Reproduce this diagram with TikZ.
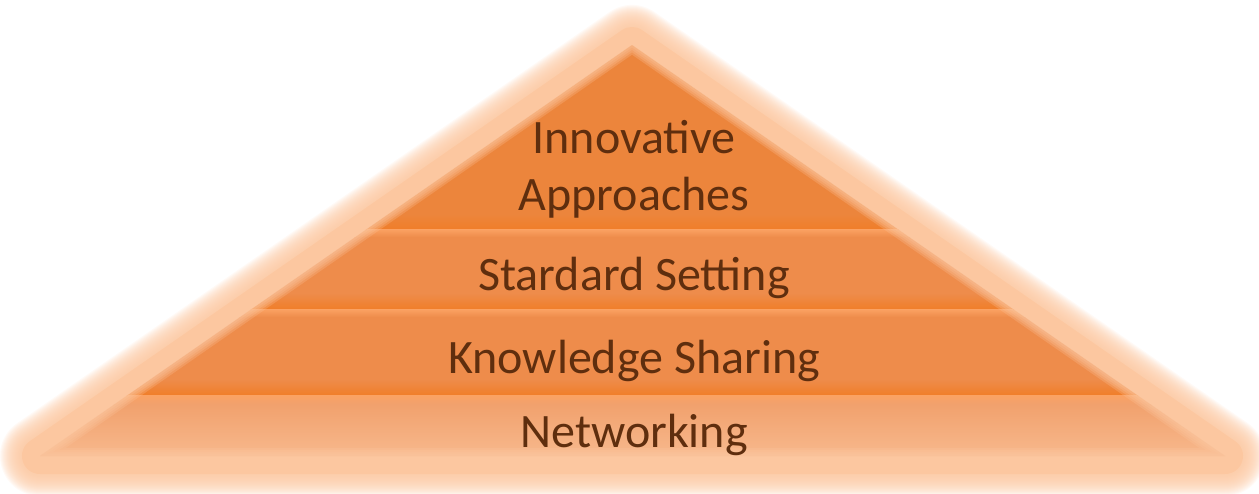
\documentclass[tikz,border=0pt]{standalone}
\usepackage{fontspec}
\setmainfont{Carlito}
\definecolor{glowc}{HTML}{FCC7A0}
\definecolor{bright}{HTML}{FBA263}
\definecolor{midc}{HTML}{EE8C4B}
\definecolor{topc}{HTML}{EC853C}
\definecolor{darkc}{HTML}{F07E2A}
\definecolor{botmid}{HTML}{F1A16D}
\definecolor{botlow}{HTML}{F8BA8F}
\definecolor{txtc}{HTML}{5F2E0E}
\tikzset{
  lbl/.style={font=\fontsize{48}{58}\selectfont, text=txtc, anchor=base, inner sep=0pt},
  glowline/.style={draw=glowc, line join=round}
}
\begin{document}
\begin{tikzpicture}[x=1pt,y=-1pt]
\useasboundingbox (0,0) rectangle (1259,493);
\coordinate (A) at (632,45);
\coordinate (B) at (40,456);
\coordinate (C) at (1225,456);
% glow
\foreach \h in {40,39,...,18}
  \draw[glowline, line width=2*\h, opacity=0.09] (A)--(B)--(C)--cycle;
\draw[glowline, line width=36] (A)--(B)--(C)--cycle;
\fill[glowc] (A)--(B)--(C)--cycle;
% layers
\begin{scope}
\clip (A)--(B)--(C)--cycle;
% layer 1
\fill[topc] (0,40) rectangle (1259,214);
\shade[top color=topc, bottom color=darkc] (0,214) rectangle (1259,229);
% layer 2 and 3
\foreach \yt/\yb in {229/309, 309/395}{
  \shade[top color=bright, bottom color=midc] (0,\yt) rectangle (1259,\yt+8);
  \fill[midc] (0,\yt+8) rectangle (1259,\yb-16);
  \shade[top color=midc, bottom color=darkc] (0,\yb-16) rectangle (1259,\yb);
}
% layer 4
\shade[top color=bright, bottom color=botmid] (0,395) rectangle (1259,404);
\shade[top color=botmid, bottom color=botlow] (0,404) rectangle (1259,460);
\end{scope}
% soft edge
\foreach \w in {16,12,8,4}
  \draw[glowline, line width=\w, opacity=0.25] (A)--(B)--(C)--cycle;
% labels
\node[lbl] (l1a) at (634,153) {Innovative};
\node[lbl] (l1b) at (634,210) {Approaches};
\node[lbl] (l2) at (634,290) {Stardard Setting};
\node[lbl] (l3) at (634,373) {Knowledge Sharing};
\node[lbl] (l4) at (634,447) {Networking};
\end{tikzpicture}
\end{document}
